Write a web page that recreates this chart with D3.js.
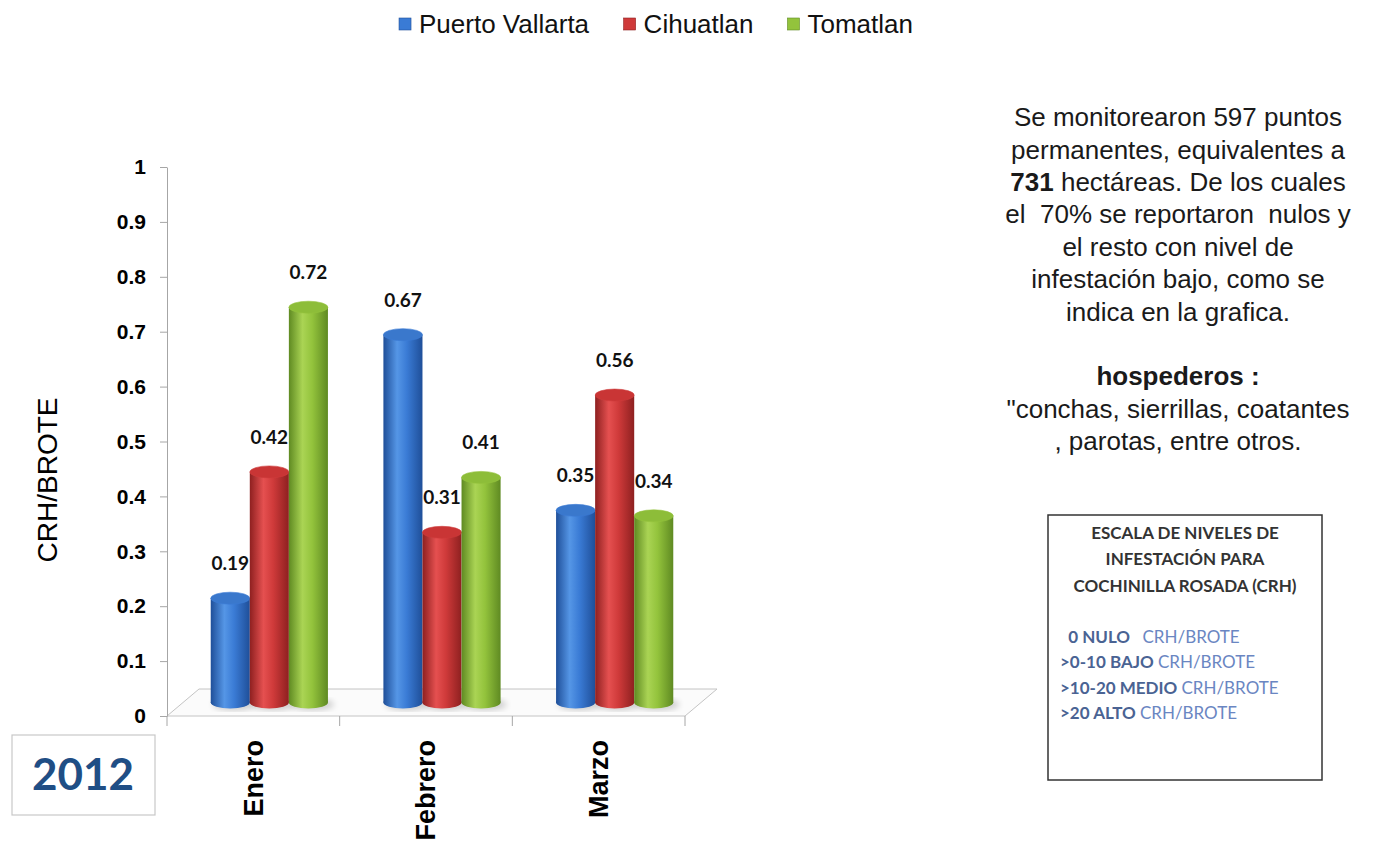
<!DOCTYPE html>
<html>
<head>
<meta charset="utf-8">
<script src="https://cdn.jsdelivr.net/npm/d3@7"></script>
<style>
  body { margin: 0; background: #fff; }
  text { white-space: pre; }
</style>
</head>
<body>
<script>
'use strict';

// data
const months = ['Enero', 'Febrero', 'Marzo'];
const seriesNames = ['Puerto Vallarta', 'Cihuatlan', 'Tomatlan'];
const puertoVallarta = [0.19, 0.67, 0.35];
const cihuatlan = [0.42, 0.31, 0.56];
const tomatlan = [0.72, 0.41, 0.34];
const yTicks = [0, 0.1, 0.2, 0.3, 0.4, 0.5, 0.6, 0.7, 0.8, 0.9, 1];
const yTitle = 'CRH/BROTE';
const yearLabel = '2012';

// note text on the right, [text, bold] pieces per line
const noteLines = [
  [['Se monitorearon 597 puntos', false]],
  [['permanentes, equivalentes a', false]],
  [['731', true], [' hectáreas. De los cuales', false]],
  [['el  70% se reportaron  nulos y', false]],
  [['el resto con nivel de', false]],
  [['infestación bajo, como se', false]],
  [['indica en la grafica.', false]],
  [],
  [['hospederos :', true]],
  [['"conchas, sierrillas, coatantes', false]],
  [[', parotas, entre otros.', false]]
];

const scaleTitle = ['ESCALA DE NIVELES DE', 'INFESTACIÓN PARA', 'COCHINILLA ROSADA (CRH)'];
const scaleRows = [
  ['  0 NULO   ', 'CRH/BROTE'],
  ['>0-10 BAJO ', 'CRH/BROTE'],
  ['>10-20 MEDIO ', 'CRH/BROTE'],
  ['>20 ALTO ', 'CRH/BROTE']
];

const seriesValues = [puertoVallarta, cihuatlan, tomatlan];
const colors = [
  { dark: '#1f4f99', mid: '#3a7bd5', light: '#5596e6', top: '#3a78cc' },
  { dark: '#8e2020', mid: '#cf3a3a', light: '#e55050', top: '#c93535' },
  { dark: '#5f8a22', mid: '#93c33c', light: '#aad454', top: '#8dbd39' }
];

const W = 1373, H = 844;
const svg = d3.select('body').append('svg')
  .attr('width', W)
  .attr('height', H);

const defs = svg.append('defs');
colors.forEach((c, i) => {
  const g = defs.append('linearGradient').attr('id', 'cyl' + i)
    .attr('x1', '0%').attr('x2', '100%').attr('y1', '0%').attr('y2', '0%');
  g.append('stop').attr('offset', '0%').attr('stop-color', c.dark);
  g.append('stop').attr('offset', '35%').attr('stop-color', c.light);
  g.append('stop').attr('offset', '60%').attr('stop-color', c.mid);
  g.append('stop').attr('offset', '100%').attr('stop-color', c.dark);
});
defs.append('filter').attr('id', 'blur')
  .append('feGaussianBlur').attr('stdDeviation', 3);

// plot frame
const left = 167, right = 685, bottom = 716, topY = 167;
const depthX = 32, depthY = 27;

const x0 = d3.scaleBand().domain(months).range([left, right]);
const x1 = d3.scaleBand().domain(seriesNames).range([0, x0.bandwidth()])
  .paddingInner(0).paddingOuter(0.71);
const y = d3.scaleLinear().domain([0, 1]).range([bottom, topY]);
// bars stand halfway back on the 3d floor
const yBar = v => y(v) - depthY / 2;

// floor
const floor = [
  [left, bottom], [right, bottom],
  [right + depthX, bottom - depthY], [left + depthX, bottom - depthY]
];
svg.append('path')
  .attr('d', d3.line()(floor) + 'Z')
  .attr('fill', '#fbfbfb')
  .attr('stroke', '#c4c4c4')
  .attr('stroke-width', 1);

// y axis
const yAxis = svg.append('g')
  .attr('transform', `translate(${left},0)`)
  .call(d3.axisLeft(y).tickValues(yTicks).tickFormat(d => d)
    .tickSize(7).tickSizeOuter(0).tickPadding(14));
yAxis.select('.domain').attr('stroke', '#a6a6a6');
yAxis.selectAll('.tick line').attr('stroke', '#a6a6a6');
yAxis.selectAll('.tick text')
  .attr('font-family', 'Liberation Sans, Arial, sans-serif')
  .attr('font-size', 21)
  .attr('font-weight', 'bold')
  .attr('fill', '#000');

// x axis ticks at band edges
const edges = months.map(m => x0(m)).concat([x0.range()[1]]);
svg.append('g').selectAll('line').data(edges).enter().append('line')
  .attr('x1', d => d).attr('x2', d => d)
  .attr('y1', bottom).attr('y2', bottom + 10)
  .attr('stroke', '#a6a6a6');

svg.append('g').selectAll('text').data(months).enter().append('text')
  .attr('transform', d => `translate(${x0(d) + x0.bandwidth() / 2},740) rotate(-90)`)
  .attr('text-anchor', 'end')
  .attr('dy', '0.35em')
  .attr('font-family', 'Liberation Sans, Arial, sans-serif')
  .attr('font-size', 27)
  .attr('font-weight', 'bold')
  .attr('fill', '#000')
  .text(d => d);

// y title
svg.append('text')
  .attr('transform', 'translate(47,480) rotate(-90)')
  .attr('text-anchor', 'middle')
  .attr('dy', '0.35em')
  .attr('font-family', 'Liberation Sans, Arial, sans-serif')
  .attr('font-size', 28)
  .attr('fill', '#000')
  .text(yTitle);

// cylinders
const bars = [];
months.forEach((m, mi) => {
  seriesNames.forEach((s, si) => {
    bars.push({ month: m, series: s, si: si, value: seriesValues[si][mi] });
  });
});

const ry = 6;
const barG = svg.append('g');
const barX = d => x0(d.month) + x1(d.series) + depthX / 2;
const bw = x1.bandwidth();

// soft shadows on the floor
barG.selectAll('ellipse.shadow').data(bars).enter().append('ellipse')
  .attr('class', 'shadow')
  .attr('cx', d => barX(d) + bw / 2 + 4)
  .attr('cy', yBar(0) + 2)
  .attr('rx', bw / 2 + 2)
  .attr('ry', ry)
  .attr('fill', '#000')
  .attr('opacity', 0.18)
  .attr('filter', 'url(#blur)');

const cyl = barG.selectAll('g.bar').data(bars).enter().append('g').attr('class', 'bar');
cyl.append('ellipse')
  .attr('cx', d => barX(d) + bw / 2)
  .attr('cy', yBar(0))
  .attr('rx', bw / 2).attr('ry', ry)
  .attr('fill', d => `url(#cyl${d.si})`);
cyl.append('rect')
  .attr('x', d => barX(d))
  .attr('y', d => yBar(d.value))
  .attr('width', bw)
  .attr('height', d => yBar(0) - yBar(d.value))
  .attr('fill', d => `url(#cyl${d.si})`);
cyl.append('ellipse')
  .attr('cx', d => barX(d) + bw / 2)
  .attr('cy', d => yBar(d.value))
  .attr('rx', bw / 2).attr('ry', ry)
  .attr('fill', d => colors[d.si].top)
  .attr('stroke', d => colors[d.si].mid)
  .attr('stroke-width', 0.6);

// value labels
svg.append('g').selectAll('text').data(bars).enter().append('text')
  .attr('x', d => barX(d) + bw / 2)
  .attr('y', d => yBar(d.value) - 28)
  .attr('text-anchor', 'middle')
  .attr('font-family', 'Lato, sans-serif')
  .attr('font-size', 19)
  .attr('font-weight', 'bold')
  .attr('fill', '#111')
  .text(d => d.value);

// legend
const legend = svg.append('g');
const legendItems = legend.selectAll('g').data(seriesNames).enter().append('g');
legendItems.append('rect')
  .attr('width', 12).attr('height', 12).attr('y', -6)
  .attr('fill', (d, i) => colors[i].mid)
  .attr('stroke', (d, i) => colors[i].dark)
  .attr('stroke-width', 0.6);
legendItems.append('text')
  .attr('x', 20)
  .attr('dy', '0.35em')
  .attr('font-family', 'Liberation Sans, Arial, sans-serif')
  .attr('font-size', 26)
  .attr('fill', '#111')
  .text(d => d);
let lx = 0;
legendItems.each(function () {
  const w = this.getBBox().width;
  d3.select(this).attr('transform', `translate(${lx},0)`);
  lx += w + 34;
});
lx -= 34;
legend.attr('transform', `translate(${656 - lx / 2},24)`);

// right note
const note = svg.append('text')
  .attr('font-family', 'Liberation Sans, Arial, sans-serif')
  .attr('font-size', 26)
  .attr('fill', '#1a1a1a')
  .attr('text-anchor', 'middle');
noteLines.forEach((line, i) => {
  const ty = 117 + i * 32.4;
  if (line.length === 0) return;
  line.forEach((seg, j) => {
    const t = note.append('tspan')
      .attr('font-weight', seg[1] ? 'bold' : 'normal')
      .text(seg[0]);
    if (j === 0) t.attr('x', 1178).attr('y', ty).attr('dy', '0.35em');
  });
});

// scale box
svg.append('rect')
  .attr('x', 1048).attr('y', 515)
  .attr('width', 274).attr('height', 265)
  .attr('fill', '#fff')
  .attr('stroke', '#333')
  .attr('stroke-width', 1.5);

svg.append('g').selectAll('text').data(scaleTitle).enter().append('text')
  .attr('x', 1185)
  .attr('y', (d, i) => 533 + i * 26.5)
  .attr('dy', '0.35em')
  .attr('text-anchor', 'middle')
  .attr('font-family', 'Lato, sans-serif')
  .attr('font-size', 17)
  .attr('font-weight', 'bold')
  .attr('fill', '#333')
  .text(d => d);

const rows = svg.append('g').selectAll('text').data(scaleRows).enter().append('text')
  .attr('x', 1060)
  .attr('y', (d, i) => 637 + i * 25.3)
  .attr('dy', '0.35em')
  .attr('font-family', 'Lato, sans-serif')
  .attr('font-size', 17);
rows.append('tspan').attr('font-weight', 'bold').attr('fill', '#4a6393').text(d => d[0]);
rows.append('tspan').attr('fill', '#6a86c2').text(d => d[1]);

// year box
svg.append('rect')
  .attr('x', 12).attr('y', 735)
  .attr('width', 143).attr('height', 80)
  .attr('fill', '#fff')
  .attr('stroke', '#c8c8c8')
  .attr('stroke-width', 1.2);
svg.append('text')
  .attr('x', 83).attr('y', 775)
  .attr('dy', '0.35em')
  .attr('text-anchor', 'middle')
  .attr('font-family', 'Lato, sans-serif')
  .attr('font-size', 44)
  .attr('font-weight', 'bold')
  .attr('fill', '#1f4e85')
  .text(yearLabel);
</script>
</body>
</html>
